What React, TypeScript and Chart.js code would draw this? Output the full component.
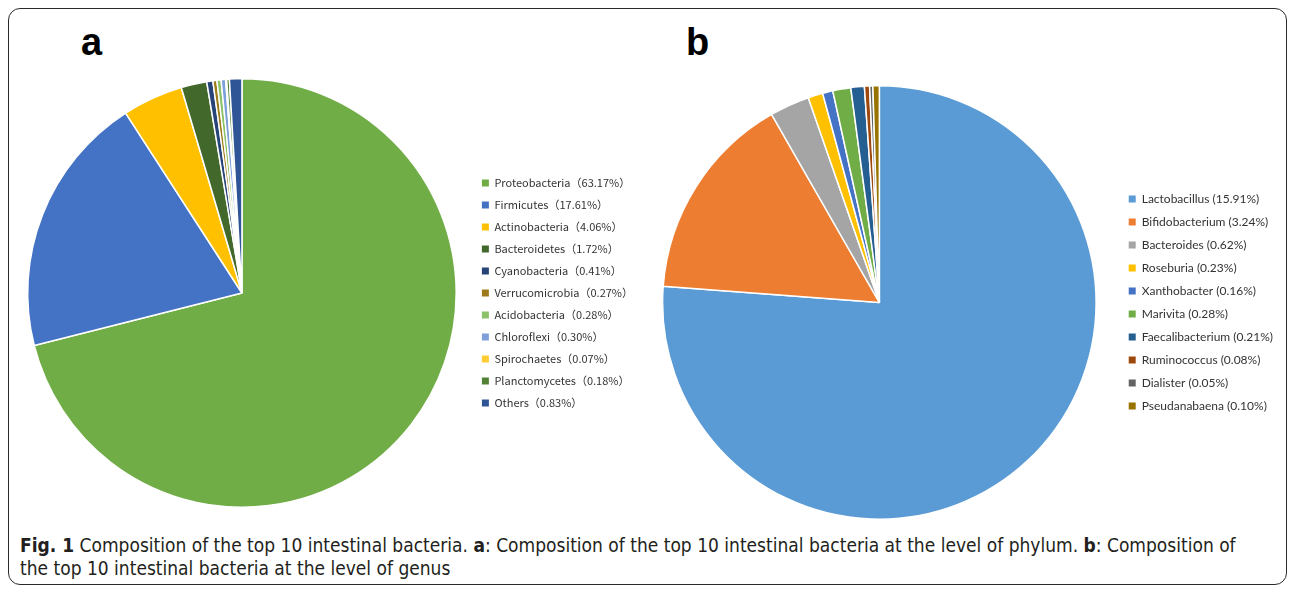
import React, { useEffect, useRef } from "react";
import { Chart, registerables } from "chart.js";

Chart.register(...registerables);

const phylumLabels = [
  "Proteobacteria", "Firmicutes", "Actinobacteria", "Bacteroidetes", "Cyanobacteria",
  "Verrucomicrobia", "Acidobacteria", "Chloroflexi", "Spirochaetes", "Planctomycetes", "Others",
];
const phylumValues = [63.17, 17.61, 4.06, 1.72, 0.41, 0.27, 0.28, 0.3, 0.07, 0.18, 0.83];
const phylumColors = [
  "#70AD47", "#4472C4", "#FFC000", "#43682B", "#264478",
  "#9E7B1A", "#8CC168", "#7EA0DA", "#FFCD33", "#548235", "#2F5597",
];

const genusLabels = [
  "Lactobacillus", "Bifidobacterium", "Bacteroides", "Roseburia", "Xanthobacter",
  "Marivita", "Faecalibacterium", "Ruminococcus", "Dialister", "Pseudanabaena",
];
const genusValues = [15.91, 3.24, 0.62, 0.23, 0.16, 0.28, 0.21, 0.08, 0.05, 0.1];
const genusColors = [
  "#5B9BD5", "#ED7D31", "#A5A5A5", "#FFC000", "#4472C4",
  "#70AD47", "#255E91", "#9E480E", "#636363", "#997300",
];

const phylumLegend = phylumLabels.map((n, i) => `${n}（${phylumValues[i].toFixed(2)}%）`);
const genusLegend = genusLabels.map((n, i) => `${n} (${genusValues[i].toFixed(2)}%)`);

type PanelCfg = {
  legend: string[];
  values: number[];
  colors: string[];
  fontFamily: string;
  fontSize: number;
  padding: number;
  boxW: number;
  areaW: number;
  height: number;
};

function measureLegend(cfg: PanelCfg): number {
  const c = document.createElement("canvas");
  const ctx = c.getContext("2d")!;
  ctx.font = `${cfg.fontSize}px ${cfg.fontFamily}`;
  let m = 0;
  for (const t of cfg.legend) {
    m = Math.max(m, cfg.boxW + cfg.fontSize / 2 + ctx.measureText(t).width);
  }
  return Math.ceil(m + cfg.padding + 10);
}

function PiePanel({ cfg, left, top }: { cfg: PanelCfg; left: number; top: number }) {
  const ref = useRef<HTMLCanvasElement | null>(null);
  const [w, setW] = React.useState<number>(cfg.areaW + 170);
  useEffect(() => {
    setW(cfg.areaW + measureLegend(cfg));
  }, []);
  useEffect(() => {
    const canvas = ref.current!;
    const chart = new Chart(canvas, {
      type: "pie",
      data: {
        labels: cfg.legend,
        datasets: [
          {
            data: cfg.values,
            backgroundColor: cfg.colors,
            borderColor: "#ffffff",
            borderWidth: 1.5,
          },
        ],
      },
      options: {
        responsive: false,
        animation: false,
        devicePixelRatio: 1,
        layout: { padding: 0 },
        plugins: {
          tooltip: { enabled: false },
          legend: {
            display: true,
            position: "right",
            align: "center",
            labels: {
              boxWidth: cfg.boxW,
              boxHeight: cfg.boxW,
              padding: cfg.padding,
              color: "#333333",
              font: { family: cfg.fontFamily, size: cfg.fontSize },
              generateLabels: (ch: any) => {
                const base = (Chart as any).overrides.pie.plugins.legend.labels.generateLabels(ch);
                return base.map((it: any) => ({ ...it, lineWidth: 0, strokeStyle: it.fillStyle }));
              },
            },
          },
        },
      },
    });
    return () => chart.destroy();
  }, [w]);
  return (
    <canvas
      ref={ref}
      width={w}
      height={cfg.height}
      style={{ position: "absolute", left, top, width: w, height: cfg.height }}
    />
  );
}

const cfgA: PanelCfg = {
  legend: phylumLegend,
  values: phylumValues,
  colors: phylumColors,
  fontFamily: "'Noto Sans CJK SC', 'Noto Sans', sans-serif",
  fontSize: 11,
  padding: 11,
  boxW: 7,
  areaW: 460,
  height: 430,
};

const cfgB: PanelCfg = {
  legend: genusLegend,
  values: genusValues,
  colors: genusColors,
  fontFamily: "Lato, 'Open Sans', sans-serif",
  fontSize: 12,
  padding: 11,
  boxW: 7,
  areaW: 472,
  height: 435,
};

export default function App() {
  const capFont = "'Liberation Sans Narrow', 'DejaVu Sans Condensed', 'Liberation Sans', sans-serif";
  return (
    <div style={{ position: "absolute", left: 0, top: 0, width: 1290, height: 592, background: "#fff", overflow: "hidden" }}>
      <div
        style={{
          position: "absolute",
          left: 8,
          top: 8,
          width: 1279,
          height: 577,
          boxSizing: "border-box",
          border: "1.5px solid #2a2a2a",
          borderRadius: 12,
        }}
      />
      <div style={{ position: "absolute", left: 81, top: 23, font: "bold 38px 'Liberation Sans', Arial, sans-serif", lineHeight: "38px", color: "#000" }}>a</div>
      <div style={{ position: "absolute", left: 686, top: 23, font: "bold 38px 'Liberation Sans', Arial, sans-serif", lineHeight: "38px", color: "#000" }}>b</div>
      <PiePanel cfg={cfgA} left={13} top={78} />
      <PiePanel cfg={cfgB} left={641} top={85} />
      <div
        style={{
          position: "absolute",
          left: 20,
          top: 534,
          whiteSpace: "nowrap",
          fontFamily: capFont,
          fontSize: 19,
          lineHeight: "23px",
          letterSpacing: "0px",
          color: "#231f20",
        }}
      >
        <b>Fig. 1</b> Composition of the top 10 intestinal bacteria. <b>a</b>: Composition of the top 10 intestinal bacteria at the level of phylum. <b>b</b>: Composition of
        <br />
        the top 10 intestinal bacteria at the level of genus
      </div>
    </div>
  );
}
